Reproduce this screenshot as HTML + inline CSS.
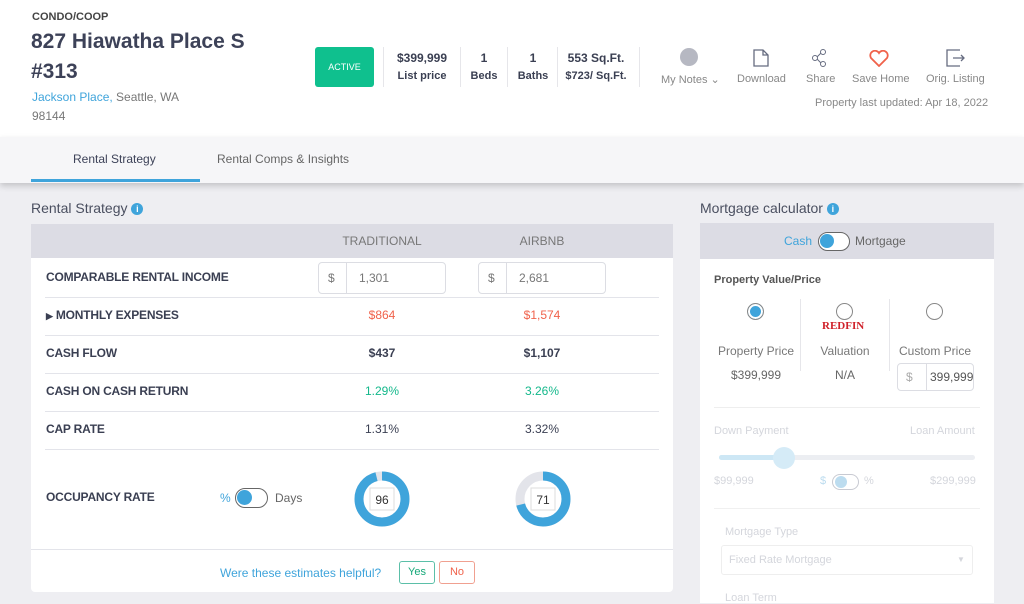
<!DOCTYPE html>
<html><head><meta charset="utf-8"><style>
*{margin:0;padding:0;box-sizing:border-box}
body{width:1024px;height:603px;overflow:hidden;background:#eeeef2;font-family:"Liberation Sans",sans-serif;color:#3a3f52;position:relative}
.a{position:absolute;white-space:nowrap}
.c{text-align:center}
.hl{position:absolute;height:1px;background:#e3e4ea}
.vl{position:absolute;width:1px;background:#e6e6ea}
.sm{font-size:12px}
.lab{font-size:12px;color:#3a3f52;letter-spacing:-0.2px;font-weight:600}
.inp{position:absolute;height:32px;border:1px solid #dcdde3;border-radius:4px;background:#fff;font-size:12px;color:#777}
</style></head><body>
<div class="a" style="left:0;top:0;width:1024px;height:137px;background:#fff"></div>
<div class="a" style="left:32px;top:11px;font-size:11px;font-weight:bold;color:#444">CONDO/COOP</div>
<div class="a" style="left:31px;top:27px;font-size:21px;font-weight:bold;color:#3d4258;line-height:30px">827 Hiawatha Place S<br>#313</div>
<div class="a" style="left:32px;top:88px;font-size:12px;color:#777;line-height:19px"><span style="color:#3fa4db">Jackson Place,</span> Seattle, WA<br>98144</div>
<div class="a c" style="left:315px;top:47px;width:59px;height:40px;background:#0fc08e;border-radius:3px;color:#fff;font-size:9px;line-height:40px">ACTIVE</div>
<div class="vl" style="left:383px;top:47px;height:40px"></div>
<div class="a c sm" style="left:388px;top:50px;width:68px;font-weight:bold;line-height:17px">$399,999<br><span style="font-size:11px">List price</span></div>
<div class="vl" style="left:460px;top:47px;height:40px"></div>
<div class="a c sm" style="left:466px;top:50px;width:36px;font-weight:bold;line-height:17px">1<br><span style="font-size:11px">Beds</span></div>
<div class="vl" style="left:507px;top:47px;height:40px"></div>
<div class="a c sm" style="left:513px;top:50px;width:40px;font-weight:bold;line-height:17px">1<br><span style="font-size:11px">Baths</span></div>
<div class="vl" style="left:557px;top:47px;height:40px"></div>
<div class="a c sm" style="left:563px;top:50px;width:66px;font-weight:bold;line-height:17px">553 Sq.Ft.<br><span style="font-size:11px">$723/ Sq.Ft.</span></div>
<div class="vl" style="left:639px;top:47px;height:40px"></div>
<div class="a" style="left:680px;top:48px;width:18px;height:18px;border-radius:50%;background:#b6b8c2"></div>
<div class="a" style="left:661px;top:73px;font-size:11px;color:#888">My Notes ⌄</div>
<svg class="a" style="left:753px;top:49px" width="16" height="18"><path d="M1 1h9l5 5v11H1z M10 1v5h5" fill="none" stroke="#666c80" stroke-width="1.3"/></svg>
<div class="a" style="left:737px;top:73px;font-size:11px;color:#888">Download</div>
<svg class="a" style="left:811px;top:49px" width="16" height="18"><circle cx="4" cy="9" r="2.5" fill="none" stroke="#666c80"/><circle cx="12" cy="3" r="2.5" fill="none" stroke="#666c80"/><circle cx="12" cy="15" r="2.5" fill="none" stroke="#666c80"/><path d="M6 8l4-4M6 10l4 4" stroke="#666c80"/></svg>
<div class="a" style="left:806px;top:73px;font-size:11px;color:#888">Share</div>
<svg class="a" style="left:869px;top:50px" width="20" height="17"><path d="M10 16L2 8A4.5 4.5 0 0 1 10 3A4.5 4.5 0 0 1 18 8Z" fill="none" stroke="#f0624b" stroke-width="1.8"/></svg>
<div class="a" style="left:852px;top:73px;font-size:11px;color:#888">Save Home</div>
<svg class="a" style="left:946px;top:49px" width="20" height="18"><path d="M14 1H1v16h13M7 9h11M15 6l3 3-3 3" fill="none" stroke="#666c80" stroke-width="1.3"/></svg>
<div class="a" style="left:926px;top:73px;font-size:11px;color:#888">Orig. Listing</div>
<div class="a" style="left:815px;top:97px;font-size:11px;color:#888">Property last updated: Apr 18, 2022</div>
<div class="a" style="left:0;top:137px;width:1024px;height:46px;background:#f6f6f8;box-shadow:0 3px 6px rgba(0,0,0,.18)"></div>
<div class="a" style="left:73px;top:152px;font-size:12px;color:#3d4258">Rental Strategy</div>
<div class="a" style="left:217px;top:152px;font-size:12px;color:#666">Rental Comps &amp; Insights</div>
<div class="a" style="left:31px;top:179px;width:169px;height:3px;background:#3fa4db"></div>
<div class="a" style="left:31px;top:200px;font-size:14px;color:#4a4f60">Rental Strategy <span style="display:inline-block;width:12px;height:12px;border-radius:50%;background:#3fa4db;color:#fff;font-size:9px;text-align:center;line-height:12px;font-weight:bold;vertical-align:1px">i</span></div>
<div class="a" style="left:31px;top:224px;width:642px;height:34px;background:#dcdce4"></div>
<div class="a" style="left:31px;top:258px;width:642px;height:334px;background:#fff;border-radius:0 0 4px 4px"></div>
<div class="a c" style="left:320px;top:234px;width:124px;font-size:12px;color:#777">TRADITIONAL</div>
<div class="a c" style="left:480px;top:234px;width:124px;font-size:12px;color:#777">AIRBNB</div>
<div class="a lab" style="left:46px;top:270px">COMPARABLE RENTAL INCOME</div>
<div class="inp" style="left:318px;top:262px;width:128px"><span class="a" style="left:9px;top:8px">$</span><div class="vl" style="left:27px;top:0;height:30px;background:#dcdde3"></div><span class="a" style="left:40px;top:8px">1,301</span></div>
<div class="inp" style="left:478px;top:262px;width:128px"><span class="a" style="left:9px;top:8px">$</span><div class="vl" style="left:27px;top:0;height:30px;background:#dcdde3"></div><span class="a" style="left:40px;top:8px">2,681</span></div>
<div class="hl" style="left:45px;top:297px;width:614px"></div>
<div class="a lab" style="left:46px;top:308px"><span style="font-size:9px">▶</span> MONTHLY EXPENSES</div>
<div class="a c" style="left:320px;top:308px;width:124px;font-size:12px;color:#f0624b">$864</div>
<div class="a c" style="left:480px;top:308px;width:124px;font-size:12px;color:#f0624b">$1,574</div>
<div class="hl" style="left:45px;top:335px;width:614px"></div>
<div class="a lab" style="left:46px;top:346px">CASH FLOW</div>
<div class="a c" style="left:320px;top:346px;width:124px;font-size:12px;font-weight:600">$437</div>
<div class="a c" style="left:480px;top:346px;width:124px;font-size:12px;font-weight:600">$1,107</div>
<div class="hl" style="left:45px;top:373px;width:614px"></div>
<div class="a lab" style="left:46px;top:384px">CASH ON CASH RETURN</div>
<div class="a c" style="left:320px;top:384px;width:124px;font-size:12px;color:#14b88b">1.29%</div>
<div class="a c" style="left:480px;top:384px;width:124px;font-size:12px;color:#14b88b">3.26%</div>
<div class="hl" style="left:45px;top:411px;width:614px"></div>
<div class="a lab" style="left:46px;top:422px">CAP RATE</div>
<div class="a c" style="left:320px;top:422px;width:124px;font-size:12px">1.31%</div>
<div class="a c" style="left:480px;top:422px;width:124px;font-size:12px">3.32%</div>
<div class="hl" style="left:45px;top:449px;width:614px"></div>
<div class="a lab" style="left:46px;top:490px">OCCUPANCY RATE</div>
<div class="a" style="left:220px;top:491px;font-size:12px;color:#3fa4db">%</div>
<div class="a" style="left:235px;top:488px;width:33px;height:20px;border:1.5px solid #666;border-radius:10px"><div class="a" style="left:1px;top:1px;width:15px;height:15px;border-radius:50%;background:#3fa4db"></div></div>
<div class="a" style="left:275px;top:491px;font-size:12px;color:#666">Days</div>
<svg class="a" style="left:352px;top:469px" width="60" height="60"><circle cx="30" cy="30" r="23" fill="none" stroke="#e3e4ea" stroke-width="9"/><circle cx="30" cy="30" r="23" fill="none" stroke="#3fa4db" stroke-width="9" stroke-dasharray="138.7 144.5" transform="rotate(-90 30 30)"/><rect x="18" y="19" width="24" height="22" fill="#fff" stroke="#ddd"/><text x="30" y="35" text-anchor="middle" font-size="12" fill="#333" font-family="Liberation Sans">96</text></svg>
<svg class="a" style="left:513px;top:469px" width="60" height="60"><circle cx="30" cy="30" r="23" fill="none" stroke="#e3e4ea" stroke-width="9"/><circle cx="30" cy="30" r="23" fill="none" stroke="#3fa4db" stroke-width="9" stroke-dasharray="102.6 144.5" transform="rotate(-90 30 30)"/><rect x="18" y="19" width="24" height="22" fill="#fff" stroke="#ddd"/><text x="30" y="35" text-anchor="middle" font-size="12" fill="#333" font-family="Liberation Sans">71</text></svg>
<div class="hl" style="left:31px;top:549px;width:642px"></div>
<div class="a" style="left:220px;top:566px;font-size:12px;color:#3fa4db">Were these estimates helpful?</div>
<div class="a c" style="left:399px;top:561px;width:36px;height:23px;border:1px solid #5bbfa8;border-radius:3px;font-size:11px;color:#14a878;line-height:21px">Yes</div>
<div class="a c" style="left:439px;top:561px;width:36px;height:23px;border:1px solid #f0a090;border-radius:3px;font-size:11px;color:#f0624b;line-height:21px">No</div>
<div class="a" style="left:700px;top:200px;font-size:14px;color:#4a4f60">Mortgage calculator <span style="display:inline-block;width:12px;height:12px;border-radius:50%;background:#3fa4db;color:#fff;font-size:9px;text-align:center;line-height:12px;font-weight:bold;vertical-align:1px">i</span></div>
<div class="a" style="left:700px;top:223px;width:294px;height:36px;background:#dcdce4"></div>
<div class="a" style="left:700px;top:259px;width:294px;height:344px;background:#fff"></div>
<div class="a" style="left:784px;top:234px;font-size:12px;color:#3fa4db">Cash</div>
<div class="a" style="left:818px;top:232px;width:32px;height:19px;border:1.5px solid #666;border-radius:10px;background:#fff"><div class="a" style="left:1px;top:1px;width:14px;height:14px;border-radius:50%;background:#3fa4db"></div></div>
<div class="a" style="left:855px;top:234px;font-size:12px;color:#666">Mortgage</div>
<div class="a" style="left:714px;top:274px;font-size:11px;color:#555;font-weight:bold">Property Value/Price</div>
<div class="a" style="left:747px;top:303px;width:17px;height:17px;border-radius:50%;border:1px solid #888;background:#3fa4db;box-shadow:inset 0 0 0 2px #fff"></div>
<div class="a" style="left:836px;top:303px;width:17px;height:17px;border-radius:50%;border:1px solid #888"></div>
<div class="a" style="left:926px;top:303px;width:17px;height:17px;border-radius:50%;border:1px solid #888"></div>
<div class="vl" style="left:800px;top:299px;height:72px"></div>
<div class="vl" style="left:889px;top:299px;height:72px"></div>
<div class="a" style="left:822px;top:320px;font-size:11px;color:#d0212a;font-weight:bold;font-family:'Liberation Serif',serif">REDFIN</div>
<div class="a c" style="left:712px;top:344px;width:88px;font-size:12px;color:#777">Property Price</div>
<div class="a c" style="left:712px;top:368px;width:88px;font-size:12px;color:#666">$399,999</div>
<div class="a c" style="left:802px;top:344px;width:86px;font-size:12px;color:#777">Valuation</div>
<div class="a c" style="left:802px;top:368px;width:86px;font-size:12px;color:#666">N/A</div>
<div class="a c" style="left:892px;top:344px;width:86px;font-size:12px;color:#777">Custom Price</div>
<div class="inp" style="left:897px;top:363px;width:77px;height:28px"><span class="a" style="left:8px;top:6px;color:#aaa">$</span><div class="vl" style="left:28px;top:0;height:26px;background:#dcdde3"></div><span class="a" style="left:32px;top:6px;color:#555">399,999</span></div>
<div class="hl" style="left:714px;top:407px;width:266px;background:#eee"></div>
<div class="a" style="left:714px;top:425px;font-size:11px;color:#d4d6dc">Down Payment</div>
<div class="a" style="left:910px;top:425px;font-size:11px;color:#d4d6dc">Loan Amount</div>
<div class="a" style="left:719px;top:455px;width:256px;height:5px;background:#eceef2;border-radius:3px"></div>
<div class="a" style="left:719px;top:455px;width:65px;height:5px;background:#cde7f5;border-radius:3px"></div>
<div class="a" style="left:773px;top:447px;width:22px;height:22px;border-radius:50%;background:#d5ebf7"></div>
<div class="a" style="left:714px;top:475px;font-size:11px;color:#d4d6dc">$99,999</div>
<div class="a" style="left:820px;top:475px;font-size:11px;color:#bcdcef">$</div>
<div class="a" style="left:832px;top:474px;width:27px;height:16px;border:1px solid #c8cad2;border-radius:8px"><div class="a" style="left:2px;top:1px;width:12px;height:12px;border-radius:50%;background:#bcdcef"></div></div>
<div class="a" style="left:864px;top:475px;font-size:11px;color:#d4d6dc">%</div>
<div class="a" style="left:930px;top:475px;font-size:11px;color:#d4d6dc">$299,999</div>
<div class="hl" style="left:714px;top:508px;width:266px;background:#f0f0f0"></div>
<div class="a" style="left:725px;top:526px;font-size:11px;color:#d4d6dc">Mortgage Type</div>
<div class="a" style="left:721px;top:545px;width:252px;height:30px;border:1px solid #eee;border-radius:3px"></div>
<div class="a" style="left:729px;top:554px;font-size:11px;color:#d4d6dc">Fixed Rate Mortgage</div>
<div class="a" style="left:957px;top:555px;font-size:8px;color:#d4d6dc">▼</div>
<div class="a" style="left:725px;top:592px;font-size:11px;color:#d4d6dc">Loan Term</div>
</body></html>
